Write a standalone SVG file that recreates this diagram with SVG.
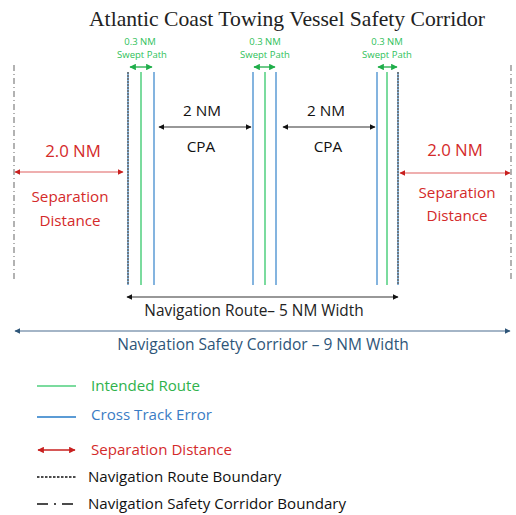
<svg xmlns="http://www.w3.org/2000/svg" width="516" height="515" viewBox="0 0 516 515">
<style>
.t{font-family:"Open Sans","Liberation Sans",sans-serif}
.g{stroke:#4fcf7e;stroke-width:1.5;fill:none}
.b{stroke:#5b9bd5;stroke-width:1.5;fill:none}
.rb{stroke:#666;stroke-width:1.5;stroke-dasharray:2 1;fill:none}
.sb{stroke:#999;stroke-width:1.5;stroke-dasharray:6 3 1 3;fill:none}
.sw{font-size:9.5px;fill:#2fbf5a;text-anchor:middle}
.red{fill:#d42a2a}
.blk{fill:#111}
</style>
<defs>
<marker id="ag" viewBox="0 0 10 10" refX="9" refY="5" markerWidth="5" markerHeight="5" orient="auto-start-reverse"><path d="M0,0L10,5L0,10z" fill="#1fae4a"/></marker>
<marker id="ak" viewBox="0 0 10 10" refX="9" refY="5" markerWidth="5" markerHeight="5" orient="auto-start-reverse"><path d="M0,0L10,5L0,10z" fill="#111"/></marker>
<marker id="ar" viewBox="0 0 10 10" refX="9" refY="5" markerWidth="5" markerHeight="5" orient="auto-start-reverse"><path d="M0,0L10,5L0,10z" fill="#c8201f"/></marker>
<marker id="ab" viewBox="0 0 10 10" refX="9" refY="5" markerWidth="5" markerHeight="5" orient="auto-start-reverse"><path d="M0,0L10,5L0,10z" fill="#2e5578"/></marker>
</defs>
<rect width="516" height="515" fill="#fff"/>
<text id="title" x="287" y="26" font-family="'Liberation Serif',serif" font-size="21" fill="#222" text-anchor="middle" textLength="396" lengthAdjust="spacingAndGlyphs">Atlantic Coast Towing Vessel Safety Corridor</text>

<g id="lane-left">
<line class="b" x1="128" y1="72" x2="128" y2="285"/>
<line class="rb" x1="128" y1="72" x2="128" y2="285"/>
<line class="g" x1="141" y1="72" x2="141" y2="285"/>
<line class="b" x1="154" y1="72" x2="154" y2="285"/>
<text class="t sw" x="140" y="45">0.3 NM</text>
<text class="t sw" x="142" y="58">Swept Path</text>
</g>
<g id="lane-middle">
<line class="b" x1="253" y1="72" x2="253" y2="285"/>
<line class="g" x1="265" y1="72" x2="265" y2="285"/>
<line class="b" x1="276" y1="72" x2="276" y2="285"/>
<text class="t sw" x="265" y="45">0.3 NM</text>
<text class="t sw" x="265" y="58">Swept Path</text>
</g>
<g id="lane-right">
<line class="b" x1="377" y1="72" x2="377" y2="285"/>
<line class="g" x1="387" y1="72" x2="387" y2="285"/>
<line class="b" x1="398" y1="72" x2="398" y2="285"/>
<line class="rb" x1="398" y1="72" x2="398" y2="285"/>
<text class="t sw" x="387" y="45">0.3 NM</text>
<text class="t sw" x="387" y="58">Swept Path</text>
</g>
<g id="corridor-left">
<line class="sb" x1="14" y1="65" x2="14" y2="280"/>
</g>
<g id="corridor-right">
<line class="sb" x1="511" y1="65" x2="511" y2="280"/>
</g>

<g id="connectors">
<line x1="130" y1="67" x2="152" y2="67" stroke="#1fae4a" stroke-width="1.3" marker-start="url(#ag)" marker-end="url(#ag)"/>
<line x1="254" y1="67" x2="275" y2="67" stroke="#1fae4a" stroke-width="1.3" marker-start="url(#ag)" marker-end="url(#ag)"/>
<line x1="378" y1="67" x2="397" y2="67" stroke="#1fae4a" stroke-width="1.3" marker-start="url(#ag)" marker-end="url(#ag)"/>
<line x1="159" y1="127" x2="251" y2="127" stroke="#333" stroke-width="1.2" marker-start="url(#ak)" marker-end="url(#ak)"/>
<line x1="283" y1="127" x2="375" y2="127" stroke="#333" stroke-width="1.2" marker-start="url(#ak)" marker-end="url(#ak)"/>
<line x1="15" y1="172" x2="123" y2="172" stroke="#e06060" stroke-width="1.2" marker-start="url(#ar)" marker-end="url(#ar)"/>
<line x1="400" y1="173" x2="510" y2="173" stroke="#e06060" stroke-width="1.2" marker-start="url(#ar)" marker-end="url(#ar)"/>
<line x1="127" y1="297" x2="398" y2="297" stroke="#333" stroke-width="1.2" marker-start="url(#ak)" marker-end="url(#ak)"/>
<line x1="15" y1="331" x2="510" y2="331" stroke="#4a6d90" stroke-width="1.2" marker-start="url(#ab)" marker-end="url(#ab)"/>
</g>

<g id="labels" class="t">
<text x="202" y="116" font-size="15.3" class="blk" text-anchor="middle">2 NM</text>
<text x="201" y="152" font-size="15.3" class="blk" text-anchor="middle">CPA</text>
<text x="326" y="116" font-size="15.3" class="blk" text-anchor="middle">2 NM</text>
<text x="328" y="152" font-size="15.3" class="blk" text-anchor="middle">CPA</text>
<text x="73" y="157" font-size="16.8" class="red" text-anchor="middle">2.0 NM</text>
<text x="70" y="202" font-size="15.2" class="red" text-anchor="middle">Separation</text>
<text x="70" y="226" font-size="15.2" class="red" text-anchor="middle">Distance</text>
<text x="455" y="156" font-size="16.8" class="red" text-anchor="middle">2.0 NM</text>
<text x="457" y="198" font-size="15.2" class="red" text-anchor="middle">Separation</text>
<text x="457" y="221" font-size="15.2" class="red" text-anchor="middle">Distance</text>
<text x="254" y="316" font-size="15.4" fill="#222" text-anchor="middle">Navigation Route– 5 NM Width</text>
<text x="263" y="350" font-size="15.5" fill="#2e5578" text-anchor="middle">Navigation Safety Corridor – 9 NM Width</text>
</g>

<g id="legend" class="t">
<line x1="37" y1="386" x2="76" y2="386" stroke="#4fcf7e" stroke-width="1.5"/>
<text x="91" y="391" font-size="15.1" fill="#2fb24c">Intended Route</text>
<line x1="37" y1="417" x2="76" y2="417" stroke="#5b9bd5" stroke-width="2"/>
<text x="91" y="420" font-size="15.1" fill="#3a7cc4">Cross Track Error</text>
<line x1="38" y1="450" x2="75" y2="450" stroke="#c8201f" stroke-width="1.3" marker-start="url(#ar)" marker-end="url(#ar)"/>
<text x="91" y="455" font-size="15.1" fill="#d42a2a">Separation Distance</text>
<line x1="37" y1="477" x2="76" y2="477" stroke="#111" stroke-width="1.5" stroke-dasharray="2.5 1.5"/>
<text x="88" y="482" font-size="15.1" fill="#111">Navigation Route Boundary</text>
<line x1="37" y1="504" x2="76" y2="504" stroke="#111" stroke-width="1.3" stroke-dasharray="11 6 2 6"/>
<text x="88" y="509" font-size="15.1" fill="#111">Navigation Safety Corridor Boundary</text>
</g>
</svg>
